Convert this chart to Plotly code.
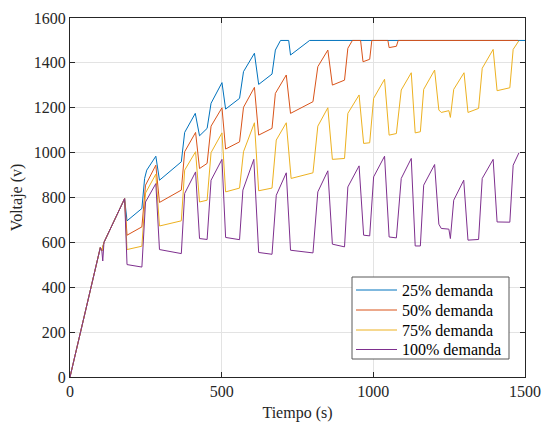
import plotly.graph_objects as go

# Voltage over time for four demand levels
t_25 = [0, 100, 105, 112, 180, 188, 237, 246, 253, 283, 295, 367, 378, 413, 427, 452, 465, 501,
        513, 559, 572, 608, 622, 666, 677, 694, 721, 727, 790, 1500]
v_25 = [0, 577, 562, 600, 795, 696, 751, 885, 922, 984, 877, 959, 1090, 1175, 1075, 1108, 1220, 1312,
        1194, 1242, 1361, 1443, 1304, 1350, 1457, 1500, 1500, 1435, 1500, 1500]

t_50 = [0, 100, 105, 112, 180, 188, 237, 249, 283, 295, 367, 378, 414, 427, 452, 465, 501, 513,
        559, 572, 608, 622, 666, 677, 713, 727, 801, 817, 850, 865, 905, 916, 931, 958, 966,
        988, 995, 1048, 1052, 1076, 1082, 1477]
v_50 = [0, 577, 562, 600, 795, 632, 669, 855, 944, 778, 833, 1004, 1090, 929, 952, 1118, 1200, 1016,
        1048, 1202, 1291, 1078, 1108, 1264, 1346, 1175, 1227, 1383, 1457, 1301, 1323, 1465, 1500, 1500, 1405,
        1416, 1500, 1500, 1468, 1474, 1500, 1500]

t_75 = [0, 100, 105, 112, 180, 188, 237, 249, 283, 295, 367, 378, 414, 427, 452, 465, 501, 513,
        559, 572, 608, 622, 666, 680, 713, 729, 801, 817, 850, 865, 905, 916, 953, 968, 988,
        1001, 1037, 1052, 1076, 1092, 1125, 1138, 1155, 1166, 1202, 1216, 1224, 1249, 1254, 1265,
        1299, 1312, 1347, 1359, 1395, 1408, 1450, 1461, 1480]
v_75 = [0, 577, 562, 600, 795, 568, 583, 820, 904, 673, 696, 922, 1004, 780, 788, 1000, 1088, 825,
        842, 1004, 1133, 830, 842, 1056, 1133, 885, 910, 1118, 1200, 970, 974, 1175, 1257, 1041, 1044,
        1242, 1327, 1078, 1085, 1279, 1356, 1088, 1093, 1282, 1368, 1190, 1179, 1187, 1157, 1282,
        1356, 1179, 1197, 1376, 1460, 1276, 1289, 1460, 1499]

t_100 = [0, 100, 105, 108, 112, 180, 188, 237, 249, 283, 295, 367, 378, 414, 427, 452, 465, 501,
         513, 559, 570, 606, 622, 666, 680, 713, 727, 801, 817, 850, 865, 905, 916, 953, 968,
         988, 1001, 1037, 1052, 1076, 1092, 1125, 1138, 1155, 1166, 1202, 1216, 1224, 1249, 1254,
         1265, 1298, 1312, 1347, 1359, 1395, 1408, 1450, 1461, 1480]
v_100 = [0, 577, 562, 517, 600, 795, 501, 490, 780, 862, 568, 550, 818, 914, 617, 613, 877, 970,
         622, 612, 833, 970, 555, 547, 810, 910, 565, 553, 825, 919, 592, 580, 847, 941, 632,
         629, 892, 984, 624, 620, 885, 974, 584, 584, 855, 947, 681, 662, 659, 617,
         788, 877, 610, 613, 885, 970, 691, 690, 944, 999]

series_names = ["25% demanda", "50% demanda", "75% demanda", "100% demanda"]
series_colors = ["#0072BD", "#D95319", "#EDB120", "#7E2F8E"]

x_ticks = [0, 500, 1000, 1500]
y_ticks = [0, 200, 400, 600, 800, 1000, 1200, 1400, 1600]

FONT = "Liberation Serif"
INK = "#262626"

W, H = 542, 423
ML, MR, MT, MB = 70, 17, 18, 46
PW, PH = W - ML - MR, H - MT - MB

fig = go.Figure()
for t, v, name, color in zip([t_25, t_50, t_75, t_100], [v_25, v_50, v_75, v_100],
                             series_names, series_colors):
    fig.add_trace(go.Scatter(x=t, y=v, mode="lines", name=name, showlegend=False,
                             line=dict(color=color, width=1)))

# Boxed legend in the lower right of the axes (pixel layout -> paper coordinates)
def px_x(p):
    return (p - ML) / PW

def px_y(p):
    return (H - MB - p) / PH

box_l, box_r, box_t, box_b = 352, 509, 277, 359
row_y = [290, 310, 330, 349.5]
fig.add_shape(type="rect", xref="paper", yref="paper",
              x0=px_x(box_l), x1=px_x(box_r), y0=px_y(box_b), y1=px_y(box_t),
              line=dict(color="#595959", width=1), fillcolor="white", layer="above")
for name, color, ry in zip(series_names, series_colors, row_y):
    fig.add_shape(type="line", xref="paper", yref="paper",
                  x0=px_x(356), x1=px_x(397), y0=px_y(ry), y1=px_y(ry),
                  line=dict(color=color, width=1), layer="above")
    fig.add_annotation(xref="paper", yref="paper", x=px_x(400), y=px_y(ry),
                       xanchor="left", yanchor="middle", showarrow=False, text=name,
                       font=dict(family=FONT, size=16, color="black"))

axis_common = dict(
    showline=True, linecolor=INK, linewidth=1, mirror="ticks",
    ticks="inside", ticklen=5, tickcolor=INK, tickwidth=1,
    showgrid=True, gridcolor="#e3e3e3", gridwidth=1,
    zeroline=False, automargin=False,
    tickfont=dict(family=FONT, size=16, color=INK),
)

fig.update_layout(
    width=W, height=H,
    margin=dict(l=ML, r=MR, t=MT, b=MB),
    paper_bgcolor="white", plot_bgcolor="white",
    font=dict(family=FONT, size=16, color=INK),
    xaxis=dict(range=[0, 1500], tickvals=x_ticks, ticktext=[str(v) for v in x_ticks],
               title=dict(text="Tiempo (s)", font=dict(family=FONT, size=16, color=INK), standoff=7),
               **axis_common),
    yaxis=dict(range=[0, 1600], tickvals=y_ticks, ticktext=[str(v) for v in y_ticks],
               title=dict(text="Voltaje (v)", font=dict(family=FONT, size=16, color=INK), standoff=7),
               **axis_common),
    showlegend=False,
)

fig.write_html("out.html")
